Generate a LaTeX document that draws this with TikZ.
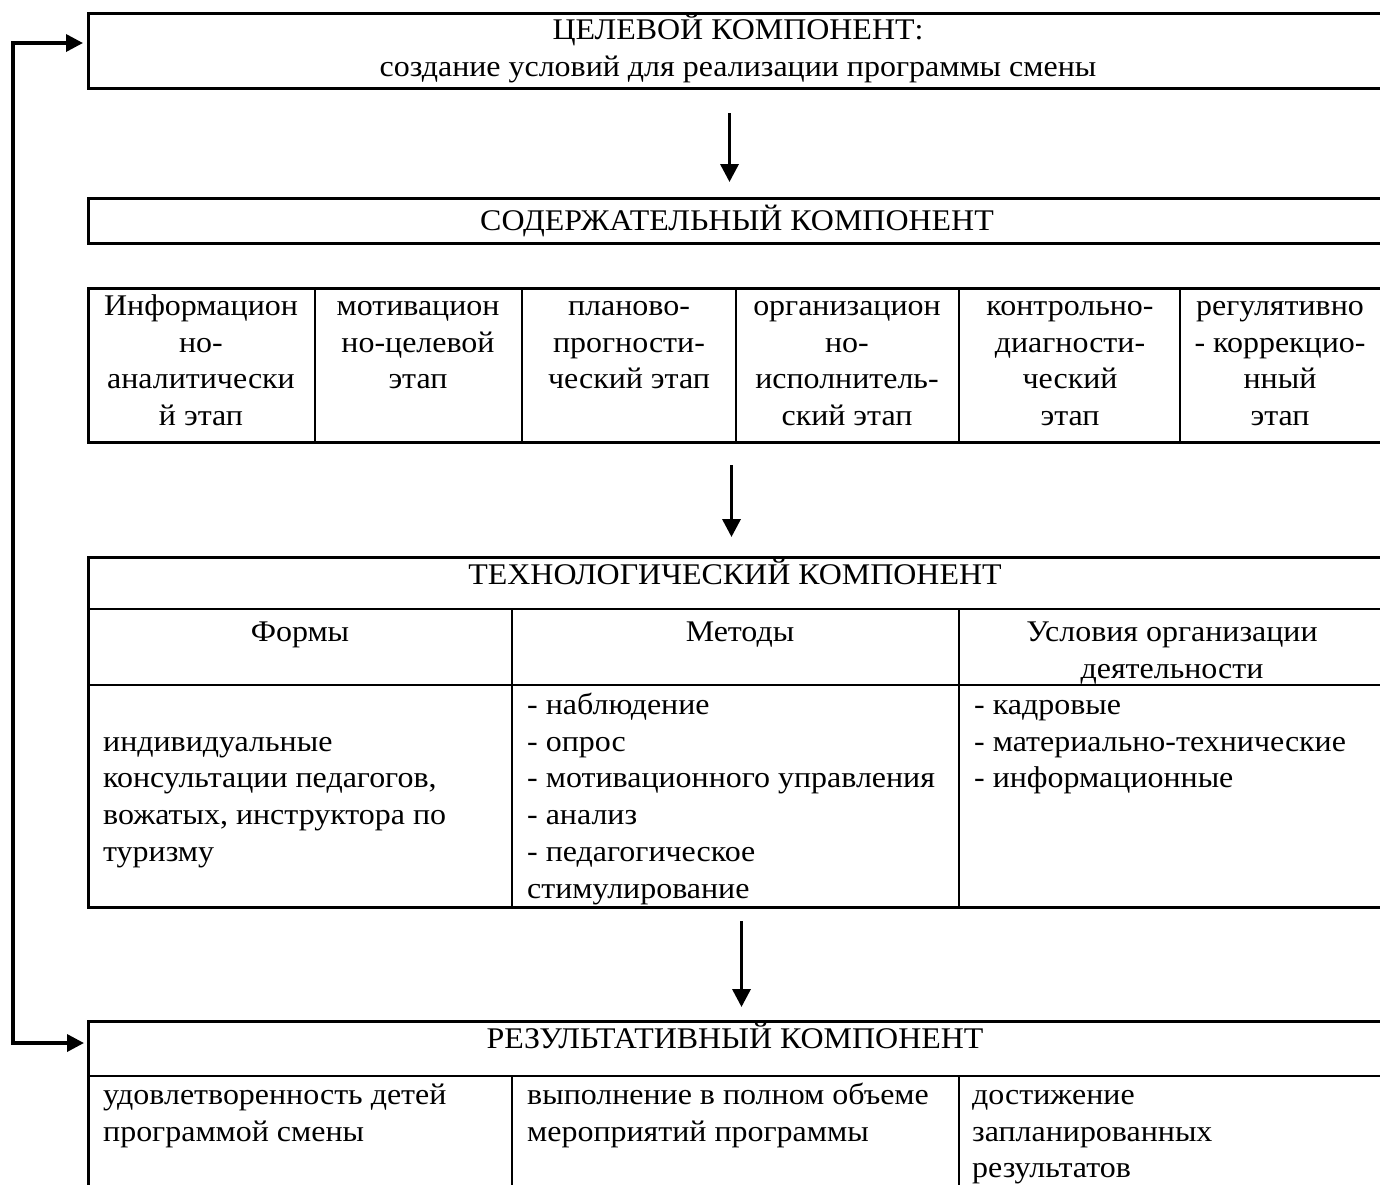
\documentclass[tikz,border=0pt]{standalone}
\usepackage{fontspec}
\setmainfont[FakeStretch=1.065]{Liberation Serif}
\usetikzlibrary{arrows.meta,calc}
\begin{document}
\begin{tikzpicture}[x=1pt,y=-1pt,
  frame/.style={draw, line width=3pt, inner sep=0pt, anchor=north west},
  rule/.style={line width=2pt},
  ctext/.style={font=\fontsize{30}{36.8}\selectfont, inner sep=0pt, align=center, anchor=north},
  ltext/.style={font=\fontsize{30}{36.8}\selectfont, inner sep=0pt, align=left, anchor=north west},
  arr/.style={line width=3.5pt, -{Triangle[length=18pt,width=18pt]}},
  fb/.style={line width=3.5pt, {Triangle[length=17pt,width=17pt]}-{Triangle[length=17pt,width=17pt]}}
]
\useasboundingbox (0,0) rectangle (1380,1184);
% boxes
\node[frame, minimum width=1295, minimum height=75] (goal) at (87,12) {};
\node[frame, minimum width=1295, minimum height=45] (cont) at (87,197) {};
\node[frame, minimum width=1295, minimum height=154] (stages) at (87,287) {};
\node[frame, minimum width=1295, minimum height=350] (tech) at (87,556) {};
\node[frame, minimum width=1295, minimum height=168] (res) at (87,1020) {};
% inner rules
\foreach \x in {315,522,736,959,1180} \draw[rule] (\x,287) -- (\x,441);
\draw[rule] (87,609) -- (1382,609);
\draw[rule] (87,685) -- (1382,685);
\foreach \x in {512,959} \draw[rule] (\x,609) -- (\x,906);
\draw[rule] (87,1076) -- (1382,1076);
\foreach \x in {512,959} \draw[rule] (\x,1076) -- (\x,1188);
% texts (top = first baseline - 25.76)
\node[ctext] (tgoal) at (738,13.24) {\strut ЦЕЛЕВОЙ КОМПОНЕНТ:\\создание условий для реализации программы смены};
\node[ctext] (tcont) at (737,204.24) {\strut СОДЕРЖАТЕЛЬНЫЙ КОМПОНЕНТ};
\node[ctext] (s1) at (201,289.24) {\strut Информацион\\но-\\аналитически\\й этап};
\node[ctext] (s2) at (418,289.24) {\strut мотивацион\\но-целевой\\этап};
\node[ctext] (s3) at (629,289.24) {\strut планово-\\прогности-\\ческий этап};
\node[ctext] (s4) at (847,289.24) {\strut организацион\\но-\\исполнитель-\\ский этап};
\node[ctext] (s5) at (1070,289.24) {\strut контрольно-\\диагности-\\ческий\\этап};
\node[ctext] (s6) at (1280,289.24) {\strut регулятивно\\- коррекцио-\\нный\\этап};
\node[ctext] (ttech) at (735,558.24) {\strut ТЕХНОЛОГИЧЕСКИЙ КОМПОНЕНТ};
\node[ctext] (hforms) at (300,615.24) {\strut Формы};
\node[ctext] (hmeth) at (740,615.24) {\strut Методы};
\node[ctext] (hcond) at (1172,615.24) {\strut Условия организации\\деятельности};
\node[ltext] (bforms) at (103,725.04) {\strut индивидуальные\\консультации педагогов,\\вожатых, инструктора по\\туризму};
\node[ltext] (bmeth) at (527,688.24) {\strut - наблюдение\\- опрос\\- мотивационного управления\\- анализ\\- педагогическое\\стимулирование};
\node[ltext] (bcond) at (974,688.24) {\strut - кадровые\\- материально-технические\\- информационные};
\node[ctext] (tres) at (735,1022.24) {\strut РЕЗУЛЬТАТИВНЫЙ КОМПОНЕНТ};
\node[ltext] (r1) at (103,1078.24) {\strut удовлетворенность детей\\программой смены};
\node[ltext] (r2) at (527,1078.24) {\strut выполнение в полном объеме\\мероприятий программы};
\node[ltext] (r3) at (972,1078.24) {\strut достижение\\запланированных\\результатов};
% arrows
\draw[arr] ($(goal.south)+(-6.5,23)$) -- ($(cont.north)+(-6.5,-15)$);
\draw[arr] ($(stages.south)+(-4.5,21)$) -- ($(tech.north)+(-4.5,-19)$);
\draw[arr] ($(tech.south)+(5.5,12)$) -- ($(res.north)+(5.5,-13)$);
\coordinate (fbTop) at ($(goal.north west)+(-4,31)$);
\coordinate (fbBot) at ($(res.north west)+(-3,23)$);
\draw[fb] (fbTop) -- (13,43) -- (13,1043) -- (fbBot);
\end{tikzpicture}
\end{document}
